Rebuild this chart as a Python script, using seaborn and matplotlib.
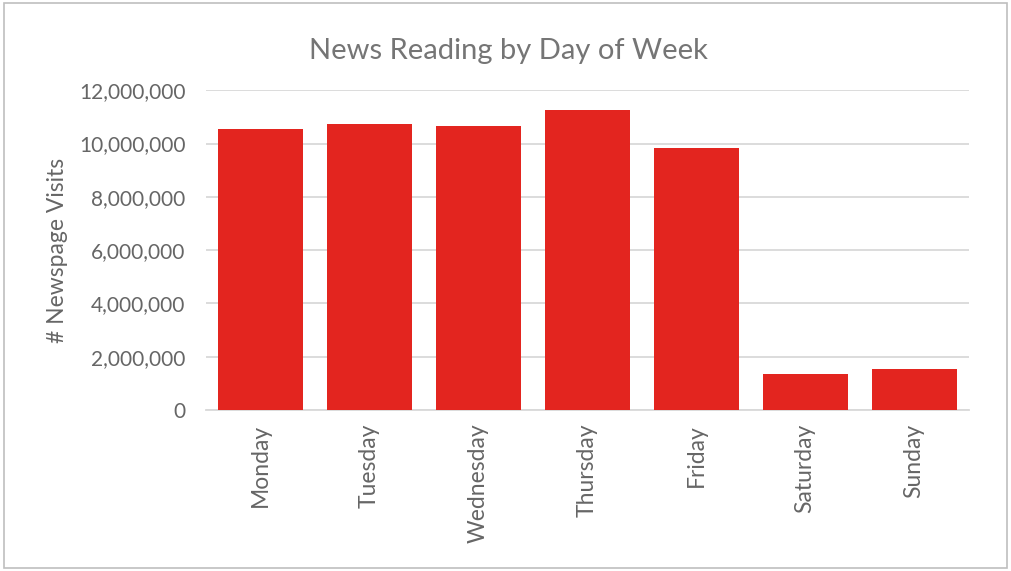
import matplotlib
matplotlib.use("Agg")
import matplotlib.pyplot as plt
import seaborn as sns
import pandas as pd
from matplotlib.ticker import FuncFormatter
from matplotlib.patches import Rectangle

days = ["Monday", "Tuesday", "Wednesday", "Thursday", "Friday", "Saturday", "Sunday"]
visits = [10560000, 10720000, 10640000, 11270000, 9820000, 1350000, 1530000]
yticks = [0, 2000000, 4000000, 6000000, 8000000, 10000000, 12000000]

sns.set_theme(style="white")
plt.rcParams["font.family"] = ["Lato", "DejaVu Sans"]

df = pd.DataFrame({"day": days, "visits": visits})

fig = plt.figure(figsize=(10.11, 5.71), dpi=100)
ax = fig.add_axes([0.204, 0.282, 0.754, 0.560])

sns.barplot(data=df, x="day", y="visits", color="#E3251F", saturation=1,
            width=0.78, ax=ax, edgecolor="none", zorder=3)

ax.set_ylim(0, 12000000)
ax.set_yticks(yticks)
ax.yaxis.set_major_formatter(FuncFormatter(lambda v, p: f"{int(v):,}"))
ax.grid(axis="y", color="#D9D9D9", linewidth=1.3, zorder=0)
ax.set_axisbelow(True)
for s in ["top", "right", "left"]:
    ax.spines[s].set_visible(False)
ax.spines["bottom"].set_color("#D9D9D9")
ax.spines["bottom"].set_linewidth(1.3)
ax.tick_params(axis="y", length=0, labelsize=15, colors="#666666", pad=15)
ax.tick_params(axis="x", length=0, labelsize=16.5, colors="#666666", pad=10)
plt.setp(ax.get_xticklabels(), rotation=90)
ax.set_xlabel("")
ax.set_ylabel("# Newspage Visits", fontsize=16.5, color="#666666", labelpad=8)

fig.text(0.503, 0.910, "News Reading by Day of Week", ha="center", va="center",
         fontsize=21, color="#757575")

fig.patches.append(Rectangle((0.004, 0.005), 0.992, 0.99, transform=fig.transFigure,
                             fill=False, edgecolor="#BFBFBF", linewidth=1.2))

fig.savefig("out.png", dpi=100)
